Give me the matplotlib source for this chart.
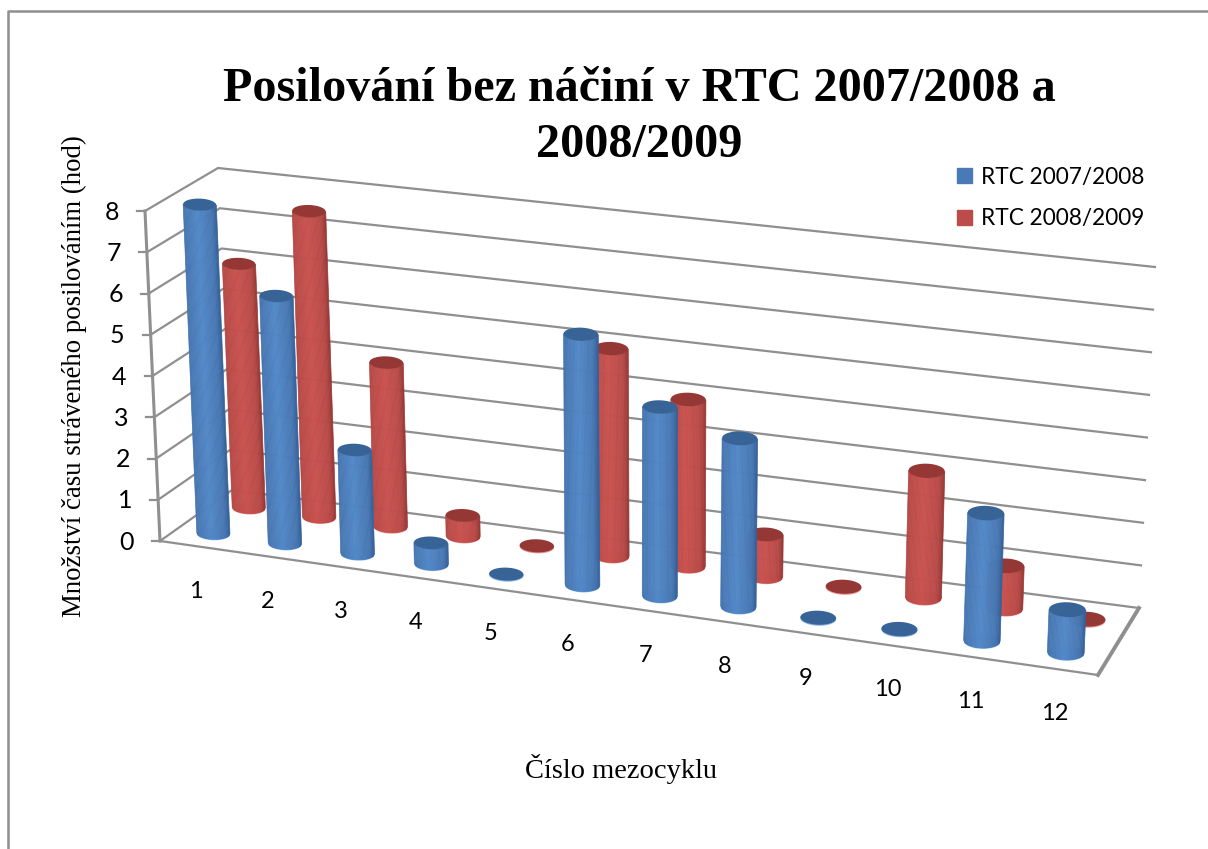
# Posilovani bez nacini - 3D cylinder chart drawn on a 2D axes
import numpy as np
import matplotlib
matplotlib.use("Agg")
import matplotlib.pyplot as plt
from matplotlib.collections import PolyCollection
from matplotlib.colors import to_rgb
from matplotlib.patches import Patch

categories = ["1", "2", "3", "4", "5", "6", "7", "8", "9", "10", "11", "12"]
rtc_2007 = [8, 6, 2.5, 0.5, 0, 6, 4.5, 4, 0, 0, 3, 1]
rtc_2008 = [6, 7.5, 4, 0.5, 0, 5, 4, 1, 0, 3, 1, 0]
y_ticks = [0, 1, 2, 3, 4, 5, 6, 7, 8]
series_names = ["RTC 2007/2008", "RTC 2008/2009"]

title = "Posilování bez náčiní v RTC 2007/2008 a\n2008/2009"
x_title = "Číslo mezocyklu"
y_title = "Množství času stráveného posilováním (hod)"

GRID = "#8f8f8f"
SERIF = "Liberation Serif"
SANS = "Lato"

# corners of the 3D box in picture pixels
FL0, FR0 = np.array([160., 541.]), np.array([1098., 675.])
BL0, BR0 = np.array([232., 490.]), np.array([1139., 608.])
FL8, FR8 = np.array([145., 211.]), np.array([1112., 333.])
BL8, BR8 = np.array([218., 168.]), np.array([1155., 267.])


def project(t, depth, value):
    # t along the categories, depth front to back, value up the axis
    w = value / y_ticks[-1]
    front0 = FL0 + (FR0 - FL0) * t
    back0 = BL0 + (BR0 - BL0) * t
    front8 = FL8 + (FR8 - FL8) * t
    back8 = BL8 + (BR8 - BL8) * t
    low = front0 + (back0 - front0) * depth
    high = front8 + (back8 - front8) * depth
    return low + (high - low) * w


def cat_pos(i):
    # a little perspective: later categories are wider apart
    u = (i + 0.5) / len(categories)
    return u / (1.1 - 0.1 * u)


def shade(dark, mid, light, s):
    # s goes -1..1 across the cylinder, brightest a bit left of centre
    d, m, l = np.array(to_rgb(dark)), np.array(to_rgb(mid)), np.array(to_rgb(light))
    a = abs(s + 0.1) / 1.1
    if a < 0.6:
        return l + (m - l) * a / 0.6
    return m + (d - m) * min((a - 0.6) / 0.4, 1) ** 2


def ellipse(c, a, b, n=60):
    th = np.linspace(0, 2 * np.pi, n)
    x = a * np.cos(th)
    y = b * np.sin(th)
    return np.column_stack([c[0] + x, c[1] + y + 0.03 * x])


def cylinder(ax, t, depth, value, pal, z):
    base = project(t, depth, 0)
    top = project(t, depth, value)
    a = 16.5 + 2 * t
    b = 6 + 1.5 * t
    ax.fill(*ellipse(base + [0, 1], a, b).T, color=pal["rim"], lw=0, zorder=z)
    if value > 0:
        edges = np.linspace(-1, 1, 31)
        polys, cols = [], []
        for s0, s1 in zip(edges[:-1], edges[1:]):
            poly = []
            for s in (s0, s1):
                dy = b * np.sqrt(1 - s * s)
                poly.append((top[0] + a * s, top[1] + dy + 0.03 * a * s))
            for s in (s1, s0):
                dy = b * np.sqrt(1 - s * s)
                poly.append((base[0] + a * s, base[1] + dy + 0.03 * a * s))
            polys.append(poly)
            cols.append(shade(pal["dark"], pal["mid"], pal["light"], (s0 + s1) / 2))
        ax.add_collection(PolyCollection(polys, facecolors=cols, edgecolors=cols, linewidths=0.5, zorder=z + 0.1))
    ax.fill(*ellipse(top, a, b).T, color=pal["cap"], lw=0, zorder=z + 0.2)


blue = {"dark": "#315e96", "mid": "#4a7ab6", "light": "#5288c8", "cap": "#376396", "rim": "#8db8ea"}
red = {"dark": "#933634", "mid": "#bb4c49", "light": "#c9524f", "cap": "#953735", "rim": "#e8908c"}

plt.rcParams["font.family"] = SANS
fig = plt.figure(figsize=(12.08, 8.49), dpi=100)
ax = fig.add_axes([0, 0, 1, 1])
ax.set_xlim(0, 1208)
ax.set_ylim(849, 0)
ax.axis("off")

# outer chart border
ax.plot([8, 8, 1208], [849, 11, 11], color=GRID, lw=1.8, zorder=1)

# gridlines on the walls, tick marks and tick labels
for v in y_ticks:
    f = project(0, 0, v)
    bl = project(0, 1, v)
    br = project(1, 1, v)
    ax.plot([f[0], bl[0], br[0]], [f[1], bl[1], br[1]], color=GRID, lw=1.6, zorder=1)
    ax.plot([f[0] - 8, f[0]], [f[1], f[1]], color=GRID, lw=1.6, zorder=1)
    ax.text(f[0] - 26, f[1] + 1, str(v), ha="right", va="center", fontsize=18, color="black")

# front axis and floor edges
a0, a8 = project(0, 0, 0), project(0, 0, 8)
ax.plot([a0[0], a8[0]], [a0[1], a8[1]], color=GRID, lw=2.2, zorder=1)
fr, br = project(1, 0, 0), project(1, 1, 0)
ax.plot([a0[0], fr[0]], [a0[1], fr[1]], color=GRID, lw=1.6, zorder=1)
ax.plot([fr[0], br[0]], [fr[1], br[1]], color=GRID, lw=2.8, zorder=1)

# back row first so that the blue cylinders stand in front
for i, v in enumerate(rtc_2008):
    cylinder(ax, cat_pos(i), 0.75, v, red, 3 + i * 0.01)
for i, v in enumerate(rtc_2007):
    cylinder(ax, cat_pos(i), 0.25, v, blue, 4 + i * 0.01)

for i, lab in enumerate(categories):
    p = project(cat_pos(i), 0, 0)
    ax.text(p[0], p[1] + 45, lab, ha="center", va="center", fontsize=17, color="black")

ax.text(639, 117, title, ha="center", va="center", fontsize=34.7, fontweight="bold",
        family=SERIF, color="black", linespacing=1.33)
ax.text(74, 376, y_title, rotation=90, ha="center", va="center", fontsize=19.3, family=SERIF, color="black")
ax.text(621, 769, x_title, ha="center", va="center", fontsize=20.5, family=SERIF, color="black")

handles = [Patch(color=blue["mid"]), Patch(color=red["mid"])]
ax.legend(handles, series_names, loc="upper left", bbox_to_anchor=(950, 160), bbox_transform=ax.transData,
          frameon=False, fontsize=16.3, handlelength=0.65, handleheight=0.65, handletextpad=0.4,
          labelspacing=0.9, borderpad=0.3, borderaxespad=0)

fig.savefig("out.png", dpi=100)
